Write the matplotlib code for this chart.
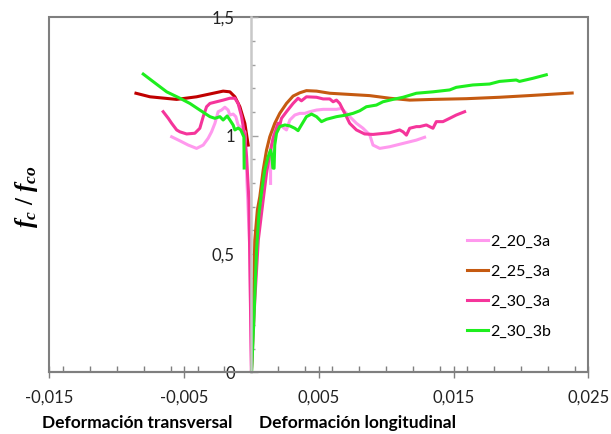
import numpy as np
import matplotlib.pyplot as plt
from matplotlib.ticker import MultipleLocator, FuncFormatter
from matplotlib.patches import Rectangle

plt.rcParams['font.family'] = ['Lato', 'DejaVu Sans']
plt.rcParams['mathtext.fontset'] = 'custom'
plt.rcParams['mathtext.it'] = 'Liberation Serif:bold:italic'
plt.rcParams['mathtext.rm'] = 'Liberation Serif:bold'

# series names (legend)
names = ['2_20_3a', '2_25_3a', '2_30_3a', '2_30_3b']

# 2_20_3a : transversal branch (negative) and longitudinal branch
eps_t_20 = [-0.00592, -0.00531, -0.00469, -0.00407, -0.00358, -0.00321, -0.00296,
            -0.00271, -0.00247, -0.00222, -0.00197, -0.00173, -0.0016, -0.00136,
            -0.00116, -0.00099, -0.00073, -0.00049, -0.00036, -0.00034, -0.00012, 0.0]
f_t_20 = [0.995, 0.978, 0.960, 0.946, 0.960, 0.989, 1.016,
          1.052, 1.101, 1.108, 1.120, 1.108, 1.087, 1.091,
          1.080, 1.045, 1.031, 1.016, 0.869, 0.812, 0.52, 0.0]
eps_l_20 = [0.00142, 0.00142, 0.00151, 0.00173, 0.00196, 0.00218, 0.0024, 0.0026,
            0.00285, 0.00322, 0.00359, 0.00396, 0.00433, 0.00483, 0.00532, 0.00581,
            0.00631, 0.00668, 0.00705, 0.00742, 0.00779, 0.00828, 0.00878, 0.00902,
            0.00952, 0.01026, 0.01125, 0.01224, 0.01285]
f_l_20 = [0.798, 0.897, 0.960, 1.024, 1.053, 1.045, 1.032, 1.024,
          1.066, 1.087, 1.094, 1.094, 1.101, 1.108, 1.111, 1.111,
          1.111, 1.115, 1.094, 1.073, 1.052, 1.031, 1.003, 0.960,
          0.946, 0.953, 0.967, 0.981, 0.993]

# 2_25_3a
eps_t_25 = [-0.00857, -0.00753, -0.00555, -0.00407, -0.00308, -0.0021, -0.0016,
            -0.00123, -0.00086, -0.00049, -0.00024]
f_t_25 = [1.179, 1.164, 1.153, 1.164, 1.176, 1.188, 1.185,
          1.164, 1.122, 1.052, 0.960]
eps_l_25 = [0.0, 0.00014, 0.00025, 0.00044, 0.00062, 0.00087, 0.00112, 0.00136,
            0.00173, 0.0021, 0.0026, 0.00309, 0.00359, 0.00408, 0.00483, 0.00581,
            0.00729, 0.00877, 0.01026, 0.01174, 0.01347, 0.01595, 0.01841, 0.02088,
            0.02262, 0.0238]
f_l_25 = [0.0, 0.305, 0.559, 0.686, 0.742, 0.854, 0.939, 0.995,
          1.052, 1.094, 1.136, 1.167, 1.181, 1.190, 1.188, 1.179,
          1.174, 1.169, 1.158, 1.150, 1.153, 1.156, 1.162, 1.170,
          1.176, 1.180]

# 2_30_3a
eps_t_30a = [-0.00655, -0.00617, -0.00592, -0.00555, -0.00531, -0.00481, -0.0042,
             -0.00383, -0.00358, -0.00333, -0.00308, -0.00259, -0.0021, -0.0016,
             -0.00123, -0.00099, -0.00073, -0.00049, -0.00036, -0.00019, -0.00008, 0.0]
f_t_30a = [1.101, 1.073, 1.052, 1.024, 1.016, 1.007, 1.010,
           1.031, 1.080, 1.122, 1.136, 1.143, 1.150, 1.158,
           1.158, 1.136, 1.080, 0.995, 0.911, 0.73, 0.31, 0.0]
eps_l_30a = [0.0, 0.00025, 0.00051, 0.00087, 0.00112, 0.00136, 0.00161, 0.00186,
             0.00198, 0.0021, 0.00223, 0.0026, 0.00309, 0.00346, 0.00371, 0.00408,
             0.00483, 0.00532, 0.00581, 0.00606, 0.00631, 0.00655, 0.0068, 0.00705,
             0.00729, 0.00779, 0.0084, 0.00902, 0.01026, 0.011, 0.01125, 0.0115,
             0.01174, 0.01224, 0.01248, 0.01298, 0.01347, 0.01372, 0.01421, 0.01471,
             0.0152, 0.01582]
f_l_30a = [0.0, 0.305, 0.559, 0.728, 0.841, 0.925, 0.989, 1.031,
           1.052, 1.045, 1.073, 1.101, 1.136, 1.158, 1.147, 1.164,
           1.162, 1.155, 1.155, 1.143, 1.150, 1.136, 1.108, 1.080,
           1.052, 1.024, 1.007, 1.005, 1.012, 1.024, 1.016, 1.002,
           1.031, 1.038, 1.038, 1.045, 1.031, 1.059, 1.059, 1.073,
           1.087, 1.101]

# 2_30_3b
eps_t_30b = [-0.00803, -0.00729, -0.00629, -0.00531, -0.00457, -0.00383, -0.00308,
             -0.00271, -0.00234, -0.0021, -0.0018, -0.0016, -0.00136, -0.00123,
             -0.00099, -0.00079, -0.00056, -0.00054]
f_t_30b = [1.260, 1.228, 1.185, 1.158, 1.136, 1.108, 1.080,
           1.073, 1.080, 1.066, 1.083, 1.066, 1.045, 1.024,
           1.032, 1.024, 0.994, 0.863]
eps_l_30b = [0.00001, 0.00018, 0.00038, 0.00055, 0.00077, 0.00099, 0.00124, 0.00142,
             0.00151, 0.00159, 0.00168, 0.00173, 0.00186, 0.0021, 0.00248, 0.00285,
             0.00322, 0.00346, 0.00371, 0.00408, 0.00446, 0.00483, 0.0052, 0.00557,
             0.00631, 0.00705, 0.00754, 0.00804, 0.00853, 0.00927, 0.00976, 0.0105,
             0.01125, 0.01224, 0.01347, 0.01471, 0.0152, 0.01643, 0.01767, 0.01841,
             0.01965, 0.01989, 0.02088, 0.02188]
f_l_30b = [0.0, 0.221, 0.517, 0.665, 0.770, 0.855, 0.911, 0.939,
           0.918, 0.863, 0.862, 0.960, 1.010, 1.038, 1.045, 1.041,
           1.031, 1.021, 1.045, 1.080, 1.091, 1.080, 1.059, 1.069,
           1.080, 1.087, 1.094, 1.105, 1.122, 1.129, 1.143, 1.153,
           1.162, 1.179, 1.185, 1.193, 1.204, 1.214, 1.218, 1.229,
           1.235, 1.229, 1.242, 1.257]

c20 = '#FF99EE'
c25 = '#C55A11'
c25t = '#C00000'
c30a = '#F5359B'
c30b = '#1EEE1E'
lw = 2.2

fig = plt.figure(figsize=(6.11, 4.34), dpi=100)
ax = fig.add_axes([0.0807, 0.1422, 0.8822, 0.818])

# curvas transversales
ax.plot(eps_t_25, f_t_25, color=c25t, lw=lw)
ax.plot(eps_t_20, f_t_20, color=c20, lw=lw)
ax.plot(eps_t_30a, f_t_30a, color=c30a, lw=lw)
ax.plot(eps_t_30b, f_t_30b, color=c30b, lw=lw)

# curvas longitudinales
ax.plot(eps_l_20, f_l_20, color=c20, lw=lw, label=names[0])
ax.plot(eps_l_25, f_l_25, color=c25, lw=lw, label=names[1])
ax.plot(eps_l_30a, f_l_30a, color=c30a, lw=lw, label=names[2])
ax.plot(eps_l_30b, f_l_30b, color=c30b, lw=lw, label=names[3])

ax.set_xlim(-0.015, 0.025)
ax.set_ylim(0, 1.5)

# eje vertical en x = 0, marco gris alrededor
for s in ['top', 'right']:
    ax.spines[s].set_visible(False)
ax.spines['left'].set_position(('data', 0))
ax.spines['left'].set_color('#C8C8C8')
ax.spines['left'].set_linewidth(1.8)
ax.spines['bottom'].set_color('#7F7F7F')
ax.spines['bottom'].set_linewidth(1.5)
ax.add_patch(Rectangle((0, 0), 1, 1, transform=ax.transAxes, fill=False,
                       edgecolor='#7F7F7F', lw=1.5, clip_on=False, zorder=0))

fmt = FuncFormatter(lambda v, p: f"{v:g}".replace('.', ','))
ax.xaxis.set_major_locator(MultipleLocator(0.01))
ax.xaxis.set_minor_locator(MultipleLocator(0.002))
ax.yaxis.set_major_locator(MultipleLocator(0.5))
ax.yaxis.set_minor_locator(MultipleLocator(0.1))
ax.xaxis.set_major_formatter(fmt)
ax.yaxis.set_major_formatter(fmt)
ax.set_xticks(np.arange(-0.015, 0.0251, 0.01))

ax.tick_params(axis='x', which='major', direction='inout', length=9, width=1,
               color='#7F7F7F', pad=8, labelsize=12, labelcolor='#222222')
ax.tick_params(axis='x', which='minor', direction='in', length=4, width=1,
               color='#7F7F7F')
ax.tick_params(axis='y', which='major', direction='in', length=5, width=1,
               color='#A0A0A0', pad=12, labelsize=12, labelcolor='#222222')
ax.tick_params(axis='y', which='minor', direction='in', length=3, width=1,
               color='#A0A0A0')

fig.text(27 / 611, 1 - 197 / 434, r'$f_c\ /\ f_{co}$', rotation=90,
         fontsize=18, ha='center', va='center')
fig.text(137 / 611, 1 - 423 / 434, 'Deformación transversal', fontsize=12.5,
         fontweight='bold', ha='center', va='center')
fig.text(357.5 / 611, 1 - 423 / 434, 'Deformación longitudinal', fontsize=12.5,
         fontweight='bold', ha='center', va='center')

ax.legend(loc='center left', bbox_to_anchor=(467 / 611, 1 - 286.7 / 434),
          bbox_transform=fig.transFigure, frameon=False, fontsize=11.5,
          handlelength=1.3, handletextpad=0.15, labelspacing=1.0,
          borderpad=0, borderaxespad=0)

fig.savefig('out.png', dpi=100)
